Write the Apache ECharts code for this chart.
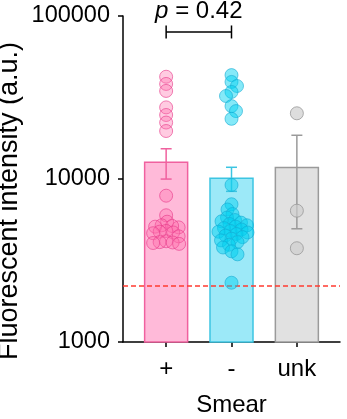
<!DOCTYPE html>
<html>
<head>
<meta charset="utf-8">
<script src="https://cdn.jsdelivr.net/npm/echarts@6/dist/echarts.min.js"></script>
<style>
html,body{margin:0;padding:0;background:#fff;}
#chart{width:347px;height:419px;}
</style>
</head>
<body>
<div id="chart"></div>
<script>
// ---- data ----
const categories = ['+', '-', 'unk'];
const plusValues = [42400, 38300, 34700, 27500, 24700, 22200, 19700, 7900, 5990, 5470,
  5200, 5100, 5050, 5150, 4800, 4700, 4750, 4650, 4450,
  4150, 4100, 4080, 4050, 4000];
const minusValues = [43400, 39400, 37200, 34200, 32300, 28000, 26100, 23400, 9190,
  7000, 6500, 6100, 5800, 5600, 5500, 5400, 5300, 5200, 5100, 5000, 4900, 4800,
  4750, 4700, 4600, 4500, 4400, 4300, 4200, 4100, 3950, 3800, 3600, 3450, 2310];
const unkValues = [25300, 6390, 3760];
const barMeans = [12660, 10100, 11750];
const barSEM = [2670, 1700, 6800];
const thresholdValue = 2200;
const pValue = '0.42';
const bracketValue = 79800;
const yTickValues = [1000, 10000, 100000];

// ---- styles ----
const FONT = '"Liberation Sans", Arial, Helvetica, sans-serif';
const barFill = ['#ffbad9', '#9ce9f8', '#e1e1e1'];
const barStroke = ['#f0619f', '#3cc5e2', '#9a9a9a'];
const dotFill = ['rgba(255,110,172,0.45)', 'rgba(0,208,240,0.6)', 'rgba(205,205,205,0.85)'];
const dotStroke = ['rgba(232,60,140,0.8)', 'rgba(20,170,210,0.75)', '#999999'];
const groups = [plusValues, minusValues, unkValues];

const chart = echarts.init(document.getElementById('chart'), null, {renderer: 'canvas'});
const Y_MIN = yTickValues[0], Y_MAX = yTickValues[yTickValues.length - 1];

function buildOption(scatterData) {
  return {
    animation: false,
    grid: {left: 123, right: 7, top: 16, bottom: 77, containLabel: false, outerBoundsMode: 'none'},
    xAxis: {
      type: 'value', min: -0.66, max: 2.66,
      splitLine: {show: false},
      axisLine: {show: true, onZero: false, lineStyle: {color: '#000', width: 1.5}},
      axisTick: {show: true, length: 5, customValues: [0, 1, 2], lineStyle: {color: '#000', width: 1.5}},
      axisLabel: {show: true, customValues: [0, 1, 2], margin: 15, fontSize: 24, color: '#000', fontFamily: FONT,
        formatter: v => categories[Math.round(v)]},
      name: 'Smear', nameLocation: 'middle', nameGap: 51,
      nameTextStyle: {fontSize: 24, color: '#000', fontFamily: FONT}
    },
    yAxis: {
      type: 'log', logBase: 10, min: Y_MIN, max: Y_MAX,
      splitLine: {show: false},
      minorTick: {show: false},
      axisLine: {show: true, onZero: false, lineStyle: {color: '#000', width: 1.5}},
      axisTick: {show: true, length: 5, lineStyle: {color: '#000', width: 1.5}},
      axisLabel: {margin: 13, fontSize: 23.5, color: '#000', fontFamily: FONT,
        formatter: v => String(Math.round(v))}
    },
    graphic: [{
      type: 'text', x: 10, y: 201, rotation: Math.PI / 2,
      style: {text: 'Fluorescent intensity (a.u.)', font: '27px ' + FONT,
        textAlign: 'center', textVerticalAlign: 'middle', fill: '#000'}
    }],
    series: [
      {
        type: 'custom', name: 'bars', z: 1,
        encode: {x: 0, y: 1},
        data: categories.map((c, i) => [i, barMeans[i]]),
        renderItem: function (params, api) {
          const i = params.dataIndex;
          const top = api.coord([api.value(0), api.value(1)]);
          const base = api.coord([api.value(0), Y_MIN]);
          const w = 43;
          return {type: 'rect', shape: {x: top[0] - w / 2, y: top[1], width: w, height: base[1] - top[1]},
            style: {fill: barFill[i], stroke: barStroke[i], lineWidth: 1.5}};
        },
        markLine: {
          silent: true, symbol: 'none', z: 2,
          label: {show: false},
          lineStyle: {color: '#ff3b30', type: [5, 3], width: 1.5},
          data: [{yAxis: thresholdValue}]
        }
      },
      {
        type: 'custom', name: 'errors', z: 3,
        encode: {x: 0, y: [1, 2]},
        data: categories.map((c, i) => [i, barMeans[i] + barSEM[i], barMeans[i] - barSEM[i]]),
        renderItem: function (params, api) {
          const i = params.dataIndex;
          const hi = api.coord([api.value(0), api.value(1)]);
          const lo = api.coord([api.value(0), api.value(2)]);
          const cw = 5.5;
          const st = {stroke: barStroke[i], lineWidth: 1.5};
          return {type: 'group', children: [
            {type: 'line', shape: {x1: hi[0], y1: hi[1], x2: lo[0], y2: lo[1]}, style: st},
            {type: 'line', shape: {x1: hi[0] - cw, y1: hi[1], x2: hi[0] + cw, y2: hi[1]}, style: st},
            {type: 'line', shape: {x1: lo[0] - cw, y1: lo[1], x2: lo[0] + cw, y2: lo[1]}, style: st}
          ]};
        }
      },
      ...groups.map((g, gi) => ({
        type: 'scatter', name: categories[gi], z: 5,
        symbol: 'circle', symbolSize: 13,
        itemStyle: {color: dotFill[gi], borderColor: dotStroke[gi], borderWidth: 1},
        data: scatterData[gi]
      })),
      {
        type: 'custom', name: 'bracket', z: 6,
        encode: {x: [0, 1], y: 2},
        data: [[0, 1, bracketValue]],
        renderItem: function (params, api) {
          const a = api.coord([api.value(0), api.value(2)]);
          const b = api.coord([api.value(1), api.value(2)]);
          const st = {stroke: '#000', lineWidth: 1.5};
          const t = 6.5;
          return {type: 'group', children: [
            {type: 'line', shape: {x1: a[0], y1: a[1], x2: b[0], y2: b[1]}, style: st},
            {type: 'line', shape: {x1: a[0], y1: a[1] - t, x2: a[0], y2: a[1] + t}, style: st},
            {type: 'line', shape: {x1: b[0], y1: b[1] - t, x2: b[0], y2: b[1] + t}, style: st},
            {type: 'text', x: (a[0] + b[0]) / 2, y: a[1] - 21,
              style: {text: '{i|p} = ' + pValue, fill: '#000', font: '24px ' + FONT,
                textAlign: 'center', textVerticalAlign: 'middle',
                rich: {i: {fontStyle: 'italic', fontSize: 24, fontFamily: FONT, fill: '#000'}}}}
          ]};
        }
      }
    ]
  };
}

// first pass: points on the category centre
chart.setOption(buildOption(groups.map((g, gi) => g.map(v => [gi, v]))));

// beeswarm layout in pixel space through the chart's own scales
function swarm(values, gi, minDist) {
  const x0 = chart.convertToPixel({xAxisIndex: 0}, gi);
  const x1 = chart.convertToPixel({xAxisIndex: 0}, gi + 1);
  const unit = x1 - x0;
  const order = values.map((v, i) => i).sort((a, b) => values[b] - values[a]);
  const placed = [];
  const out = new Array(values.length);
  let pref = 1;
  order.forEach(idx => {
    const y = chart.convertToPixel({yAxisIndex: 0}, values[idx]);
    let off = 0;
    for (let k = 0; k < 400; k++) {
      const d = k * 0.5;
      const cands = k === 0 ? [0] : [pref * d, -pref * d];
      let found = null;
      for (const c of cands) {
        if (placed.every(p => Math.hypot(p.x - c, p.y - y) >= minDist)) { found = c; break; }
      }
      if (found !== null) { off = found; break; }
    }
    if (off !== 0) pref = -Math.sign(off);
    placed.push({x: off, y: y});
    out[idx] = [gi + off / unit, values[idx]];
  });
  return out;
}

const scatterData = groups.map((g, gi) => swarm(g, gi, 6.5));
chart.setOption(buildOption(scatterData), true);
</script>
</body>
</html>
